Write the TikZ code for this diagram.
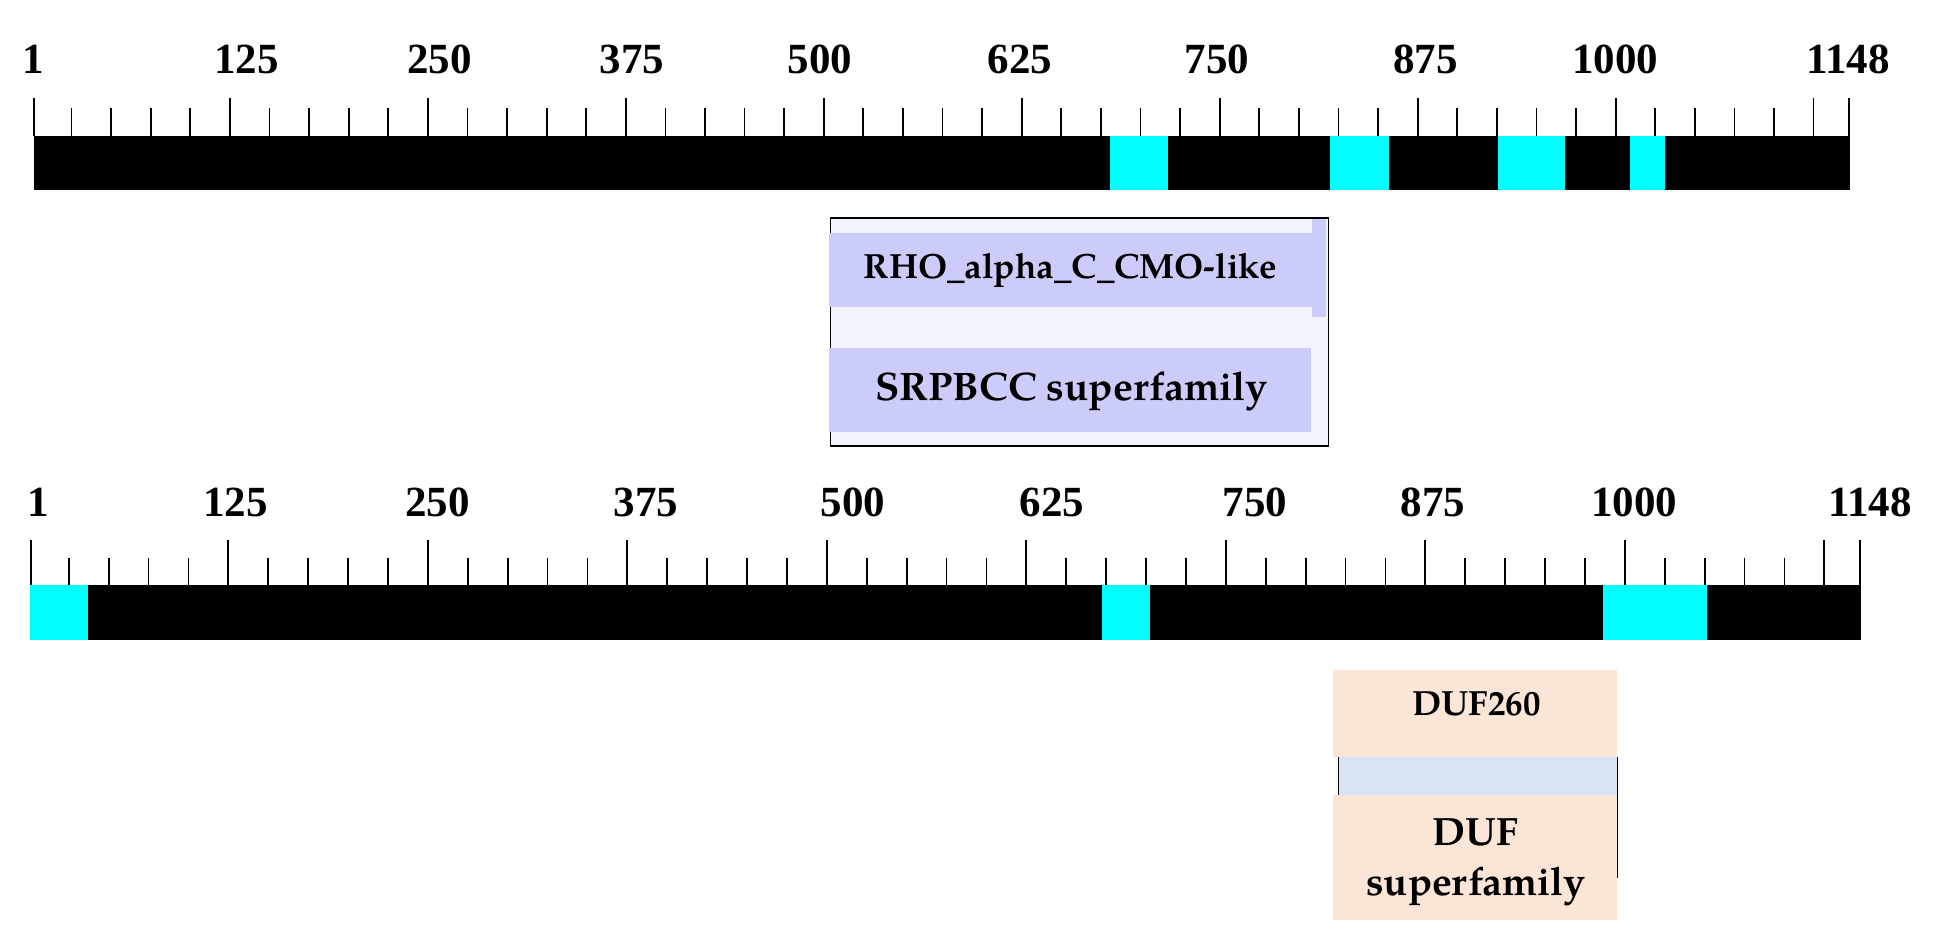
\documentclass[tikz,border=0pt]{standalone}
\usepackage{fontspec}
\setmainfont{Liberation Serif}
\IfFontExistsTF{TeX Gyre Pagella}
  {\newfontfamily\palfam{TeX Gyre Pagella}}
  {\newfontfamily\palfam{Liberation Serif}}
\newcommand\palb{\palfam\bfseries}
\definecolor{cyanblk}{HTML}{00FFFF}
\definecolor{lav}{HTML}{CCCCFA}
\definecolor{boxbg}{HTML}{F1F5FB}
\definecolor{peach}{HTML}{FBE5D6}
\definecolor{lblue}{HTML}{DAE3F3}
\tikzset{
  axlabel/.style={font=\fontsize{43}{50}\selectfont\bfseries, anchor=base, inner sep=0pt},
  tickline/.style={line width=1.8pt, black},
  domlabel/.style={anchor=base, inner sep=0pt},
  barfill/.style={fill=black},
  cyanfill/.style={fill=cyanblk}
}
\begin{document}
\begin{tikzpicture}[x=1pt,y=-1pt]
\useasboundingbox (0,0) rectangle (1933,952);
\fill[white] (0,0) rectangle (1933,952);

% ---------- top protein ----------
\fill[barfill] (33.5,136) rectangle (1850,190);
\fill[cyanfill] (1110,136) rectangle (1168,190);
\fill[cyanfill] (1330,136) rectangle (1388.8,190);
\fill[cyanfill] (1497.8,136) rectangle (1565.2,190);
\fill[cyanfill] (1630,136) rectangle (1665.4,190);
\foreach \v in {25,50,...,1125}{
  \pgfmathsetmacro\xx{33.5+(\v-1)*1.5837}
  \pgfmathsetmacro\ty{mod(\v,125)==0 ? 98 : 108.5}
  \draw[tickline] (\xx,\ty) -- (\xx,136);
}
\draw[tickline] (34.2,98) -- (34.2,136);
\draw[tickline] (1849,98) -- (1849,136);
\foreach \x/\l in {33.5/1,246.6/125,439.5/250,632/375,820/500,1020/625,1217/750,1425.6/875,1615/1000,1848/1148}{
  \node[axlabel] (ta\l) at (\x,73.3) {\l};
}

% ---------- domain box 1 ----------
\fill[boxbg] (830.6,217.8) rectangle (1328.4,445.8);
\fill[lav] (1311.7,217.8) rectangle (1326.2,317.3);
\draw[line width=1.5pt] (830.6,217.8) rectangle (1328.4,445.8);
\fill[lav] (829.3,233.3) rectangle (1311.7,306.7);
\fill[lav] (829.3,348.3) rectangle (1311.4,431.7);
\node[domlabel, font=\palb\fontsize{35}{41}\selectfont] (rho) at (1070.5,278.5) {RHO\_alpha\_C\_CMO-like};
\node[domlabel, font=\palb\fontsize{39.8}{46}\selectfont] (srp) at (1071.5,400.5) {SRPBCC superfamily};

% ---------- bottom protein ----------
\fill[barfill] (30.4,585) rectangle (1861,640);
\fill[cyanfill] (30.4,585) rectangle (88.4,640);
\fill[cyanfill] (1101.8,585) rectangle (1150,640);
\fill[cyanfill] (1602.8,585) rectangle (1707,640);
\foreach \v in {25,50,...,1125}{
  \pgfmathsetmacro\xx{30.4+(\v-1)*1.596}
  \pgfmathsetmacro\ty{mod(\v,125)==0 ? 540 : 557.5}
  \draw[tickline] (\xx,\ty) -- (\xx,585);
}
\draw[tickline] (31.3,540) -- (31.3,585);
\draw[tickline] (1860,540) -- (1860,585);
\foreach \x/\l in {38/1,235.6/125,437.5/250,646/375,853/500,1052/625,1255/750,1433/875,1634/1000,1870/1148}{
  \node[axlabel] (ba\l) at (\x,516.7) {\l};
}

% ---------- domain box 2 ----------
\fill[peach] (1333.3,670) rectangle (1616.7,756.7);
\fill[lblue] (1338,756.7) rectangle (1616.7,795);
\fill[peach] (1333.3,795) rectangle (1616.7,920);
\draw[line width=1.5pt] (1338.3,756.7) -- (1338.3,795);
\draw[line width=1.5pt] (1617.3,756.7) -- (1617.3,878.3);
\node[domlabel, font=\palb\fontsize{35}{42}\selectfont] (duf260) at (1476.7,715) {DUF260};
\node[domlabel, font=\palb\fontsize{39.5}{46}\selectfont] (duf) at (1475.7,845) {DUF};
\node[domlabel, font=\palb\fontsize{39.5}{46}\selectfont] (sfam) at (1475.8,895) {superfamily};
\end{tikzpicture}
\end{document}
